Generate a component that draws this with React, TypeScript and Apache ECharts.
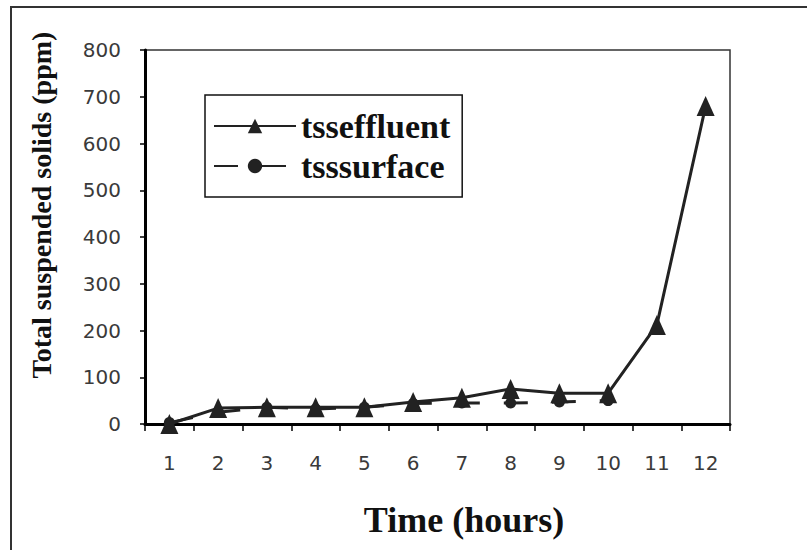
import React, { useEffect, useRef } from "react";
import * as echarts from "echarts";

const hours = ["1", "2", "3", "4", "5", "6", "7", "8", "9", "10", "11", "12"];
const tssEffluent = [0, 34, 36, 36, 36, 47, 56, 75, 66, 66, 212, 680];
const tssSurface = [3, 25, 36, 32, 36, 44, 45, 45, 47, 50];
const yTicks = { min: 0, max: 800, interval: 100 };

export default function App() {
  const ref = useRef<HTMLDivElement>(null);
  useEffect(() => {
    if (!ref.current) return;
    const chart = echarts.init(ref.current, null, { renderer: "svg" });
    const serif = "'Liberation Serif', 'Times New Roman', serif";
    const sans = "'DejaVu Sans', sans-serif";
    chart.setOption({
      animation: false,
      backgroundColor: "#ffffff",
      grid: {
        left: 145,
        top: 50,
        right: 77,
        bottom: 126,
        show: true,
        borderColor: "#333",
        borderWidth: 1.5,
        backgroundColor: "#ffffff",
      },
      legend: {
        orient: "vertical",
        left: 205,
        top: 95,
        data: ["tsseffluent", "tsssurface"],
        borderColor: "#111",
        borderWidth: 1.5,
        padding: [14, 12, 14, 8],
        itemGap: 6,
        itemWidth: 82,
        itemHeight: 18,
        textStyle: { fontFamily: serif, fontSize: 34, fontWeight: "bold", color: "#111" },
      },
      xAxis: {
        type: "category",
        data: hours,
        boundaryGap: true,
        axisLine: { lineStyle: { color: "#000", width: 3 } },
        axisTick: { show: true, inside: false, length: 7, lineStyle: { color: "#000", width: 1.5 } },
        axisLabel: { margin: 29, fontFamily: sans, fontSize: 20, color: "#3a3a3a" },
        splitLine: { show: false },
      },
      yAxis: {
        type: "value",
        min: yTicks.min,
        max: yTicks.max,
        interval: yTicks.interval,
        axisLine: { show: true, lineStyle: { color: "#000", width: 3 } },
        axisTick: { show: true, inside: false, length: 5, lineStyle: { color: "#000", width: 1.5 } },
        axisLabel: { margin: 24, fontFamily: sans, fontSize: 20, color: "#3a3a3a" },
        splitLine: { show: false },
      },
      series: [
        {
          name: "tsseffluent",
          type: "line",
          data: tssEffluent,
          z: 3,
          symbol: "triangle",
          symbolSize: [18, 20],
          lineStyle: { color: "#222", width: 3 },
          itemStyle: { color: "#222" },
        },
        {
          name: "tsssurface",
          type: "line",
          data: tssSurface,
          z: 2,
          symbol: "circle",
          symbolSize: 11,
          lineStyle: { color: "#222", width: 3, type: [24, 24] },
          itemStyle: { color: "#222" },
        },
      ],
      graphic: [
        {
          type: "rect",
          shape: { x: 11, y: 7, width: 900, height: 700 },
          style: { fill: "none", stroke: "#333", lineWidth: 2 },
          silent: true,
        },
        {
          type: "text",
          x: 41,
          y: 205,
          rotation: Math.PI / 2,
          style: {
            text: "Total suspended solids (ppm)",
            font: `bold 28px ${serif}`,
            fill: "#111",
            textAlign: "center",
            textVerticalAlign: "middle",
          },
        },
        {
          type: "text",
          x: 464,
          y: 520,
          style: {
            text: "Time (hours)",
            font: `bold 36px ${serif}`,
            fill: "#111",
            textAlign: "center",
            textVerticalAlign: "middle",
          },
        },
      ],
    });
    return () => chart.dispose();
  }, []);
  return (
    <div
      ref={ref}
      style={{ position: "fixed", left: 0, top: 0, width: 807, height: 550, background: "#fff" }}
    />
  );
}
